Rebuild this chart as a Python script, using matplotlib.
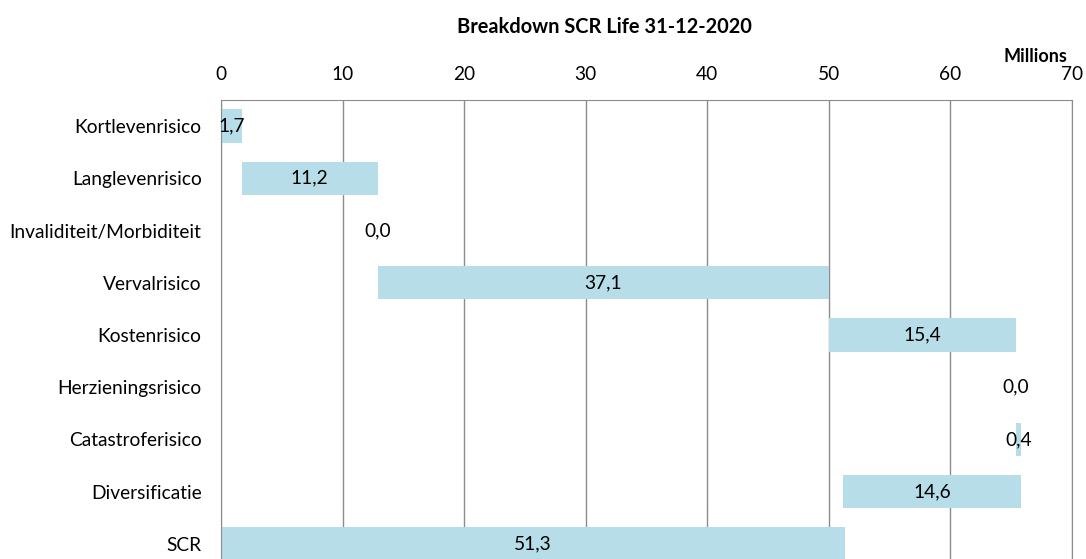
import matplotlib.pyplot as plt
import numpy as np

# Waterfall data (millions)
categories = ["Kortlevenrisico", "Langlevenrisico", "Invaliditeit/Morbiditeit",
              "Vervalrisico", "Kostenrisico", "Herzieningsrisico",
              "Catastroferisico", "Diversificatie", "SCR"]
values = [1.7, 11.2, 0.0, 37.1, 15.4, 0.0, 0.4, -14.6, 51.3]
is_total = [False, False, False, False, False, False, False, False, True]

plt.rcParams['font.family'] = ['Lato', 'DejaVu Sans']

# Compute bar starts for the waterfall
starts = []
running = 0.0
for v, tot in zip(values, is_total):
    if tot:
        starts.append(0.0)
    elif v >= 0:
        starts.append(running)
        running += v
    else:
        running += v
        starts.append(running)
widths = [abs(v) for v in values]

fig = plt.figure(figsize=(10.86, 5.59), dpi=100)
ax = fig.add_axes([221 / 1086, -11 / 559, 851 / 1086, 470 / 559])

y = np.arange(len(categories))
ax.barh(y, widths, left=starts, height=0.64, color="#b7dde8", zorder=2)

for yi, s, w, v in zip(y, starts, widths, values):
    label = f"{abs(v):.1f}".replace(".", ",")
    ax.text(s + w / 2, yi, label, ha="center", va="center", fontsize=13.8,
            color="black", zorder=3)

ax.set_xlim(0, 70)
ax.set_ylim(len(categories) - 0.5, -0.5)
ax.set_xticks(range(0, 71, 10))
ax.set_yticks(y)
ax.set_yticklabels(categories)
ax.xaxis.tick_top()
ax.tick_params(axis="both", length=0, labelsize=13.8)
ax.tick_params(axis="x", pad=12)
ax.tick_params(axis="y", pad=14)
ax.grid(axis="x", color="#8c8c8c", linewidth=1, zorder=1)

for side in ["top", "left", "right"]:
    ax.spines[side].set_color("#8c8c8c")
ax.spines["bottom"].set_visible(False)

fig.text(604 / 1086, 1 - 27 / 559, "Breakdown SCR Life 31-12-2020",
         ha="center", va="center", fontsize=14.4, fontweight="bold")
fig.text(1035 / 1086, 1 - 57 / 559, "Millions", ha="center", va="center",
         fontsize=13, fontweight="bold")

fig.savefig("out.png", dpi=100)
